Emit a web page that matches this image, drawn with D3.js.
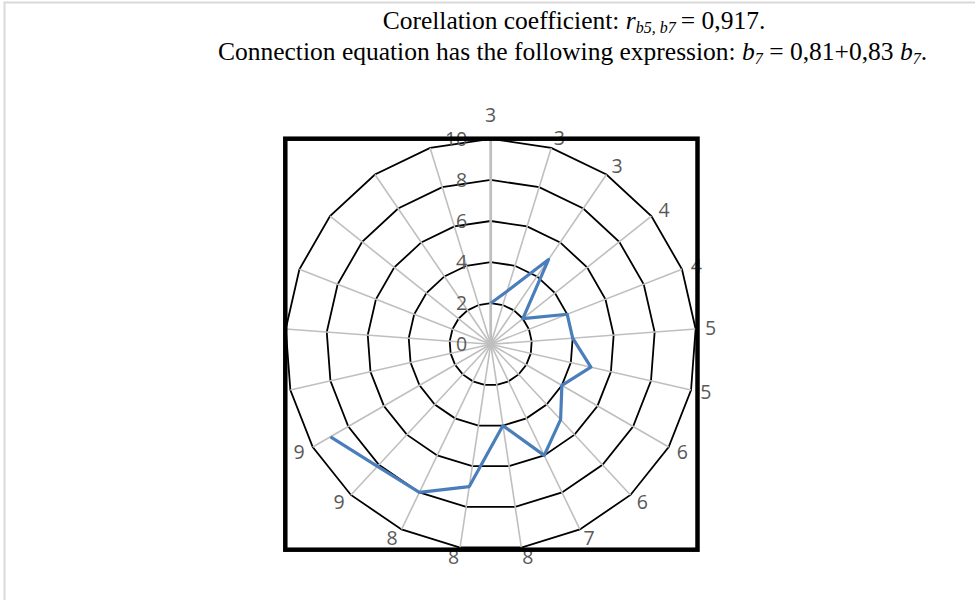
<!DOCTYPE html>
<html>
<head>
<meta charset="utf-8">
<script src="https://cdn.jsdelivr.net/npm/d3@7"></script>
<style>
  html, body { margin: 0; padding: 0; background: #fff; }
  svg { display: block; }
</style>
</head>
<body>
<svg id="chart" width="975" height="600"></svg>
<script>
// ---- data ----
const categories = ["3","3","3","4","4","5","5","6","6","7","8","8","8","9","9","","","","","",""];
const values = [2, 2.7, 5, 2, 4, 4, 5, 4, 5, 6, 4, 7, 8, 8.1, 9];
const ringTicks = [2, 4, 6, 8, 10];
const axisTickLabels = [0, 2, 4, 6, 8, 10];
const titleLine1 = ["Corellation coefficient: ", "r", "b5, b7", "\u2009= 0,917."];
const titleLine2 = ["Connection equation has the following expression: ", "b", "7", " = 0,81+0,83 ", "b", "7", "."];

// ---- layout ----
const svg = d3.select("#chart");
const cx = 490.7, cy = 344.3, R = 205.5;

// page border
svg.append("rect").attr("x", 4.5).attr("y", 2.5).attr("width", 1000).attr("height", 700)
  .attr("fill", "none").attr("stroke", "#d9d9d9").attr("stroke-width", 2);

// title
const serif = "'Liberation Serif', 'Times New Roman', serif";
const fs = 25.5, fsSub = 16;
const t1 = svg.append("text").attr("x", 574).attr("y", 29).attr("text-anchor", "middle")
  .attr("font-family", serif).attr("font-size", fs).attr("fill", "#000");
t1.append("tspan").text(titleLine1[0]);
t1.append("tspan").attr("font-style", "italic").text(titleLine1[1]);
t1.append("tspan").attr("font-style", "italic").attr("font-size", fsSub).attr("dy", 4).text(titleLine1[2]);
t1.append("tspan").attr("dy", -4).text(titleLine1[3]);

const t2 = svg.append("text").attr("x", 572.5).attr("y", 60).attr("text-anchor", "middle")
  .attr("font-family", serif).attr("font-size", fs).attr("fill", "#000");
t2.append("tspan").text(titleLine2[0]);
t2.append("tspan").attr("font-style", "italic").text(titleLine2[1]);
t2.append("tspan").attr("font-style", "italic").attr("font-size", fsSub).attr("dy", 4).text(titleLine2[2]);
t2.append("tspan").attr("dy", -4).text(titleLine2[3]);
t2.append("tspan").attr("font-style", "italic").text(titleLine2[4]);
t2.append("tspan").attr("font-style", "italic").attr("font-size", fsSub).attr("dy", 4).text(titleLine2[5]);
t2.append("tspan").attr("dy", -4).text(titleLine2[6]);

// scales
const r = d3.scaleLinear().domain([0, 10]).range([0, R]);
const n = categories.length;
const angle = d3.scaleLinear().domain([0, n]).range([0, 2 * Math.PI]);

const g = svg.append("g").attr("transform", `translate(${cx},${cy})`);

// ring polygons
const ringLine = d3.lineRadial().angle((d, i) => angle(i)).radius(d => r(d)).curve(d3.curveLinearClosed);
g.selectAll("path.ring").data(ringTicks).enter().append("path")
  .attr("class", "ring")
  .attr("d", v => ringLine(d3.range(n).map(() => v)))
  .attr("fill", "none").attr("stroke", "#000").attr("stroke-width", 1.8);

// spokes
const pt = (i, v) => [Math.sin(angle(i)) * r(v), -Math.cos(angle(i)) * r(v)];
g.selectAll("line.spoke").data(d3.range(n)).enter().append("line")
  .attr("class", "spoke")
  .attr("x1", 0).attr("y1", 0)
  .attr("x2", i => pt(i, 10)[0]).attr("y2", i => pt(i, 10)[1])
  .attr("stroke", "#bfbfbf").attr("stroke-width", i => i === 0 ? 2.8 : 1.6);

// value axis labels
g.selectAll("text.tick").data(axisTickLabels).enter().append("text")
  .attr("class", "tick")
  .attr("x", -23.5).attr("y", v => -r(v))
  .attr("dy", "0.36em")
  .attr("text-anchor", "end")
  .attr("font-family", "'Open Sans', sans-serif").attr("font-size", 19.5)
  .attr("fill", "#595959").text(v => v);

// category labels
g.selectAll("text.cat").data(categories).enter().append("text")
  .attr("class", "cat")
  .attr("x", (c, i) => {
    const s = Math.sin(angle(i));
    const p = pt(i, 10);
    return p[0] + (Math.abs(s) < 1e-6 ? 0 : Math.sign(s) * 5 + 10 * s);
  })
  .attr("y", (c, i) => {
    const co = -Math.cos(angle(i));
    const p = pt(i, 10);
    return p[1] + 10 * co + (co < -0.99 ? -14 : 0);
  })
  .attr("dy", "0.36em")
  .attr("text-anchor", "middle")
  .attr("font-family", "'Open Sans', sans-serif").attr("font-size", 19.5)
  .attr("fill", "#595959").text(c => c);

// data line
const dataLine = d3.lineRadial().angle((d, i) => angle(i)).radius(d => r(d));
g.append("path").attr("d", dataLine(values))
  .attr("fill", "none").attr("stroke", "#4a7ebb").attr("stroke-width", 3.2)
  .attr("stroke-linejoin", "round");

// frame
svg.append("rect").attr("x", 285.3).attr("y", 138.7).attr("width", 412.2).attr("height", 411)
  .attr("fill", "none").attr("stroke", "#000").attr("stroke-width", 4.5);
</script>
</body>
</html>
